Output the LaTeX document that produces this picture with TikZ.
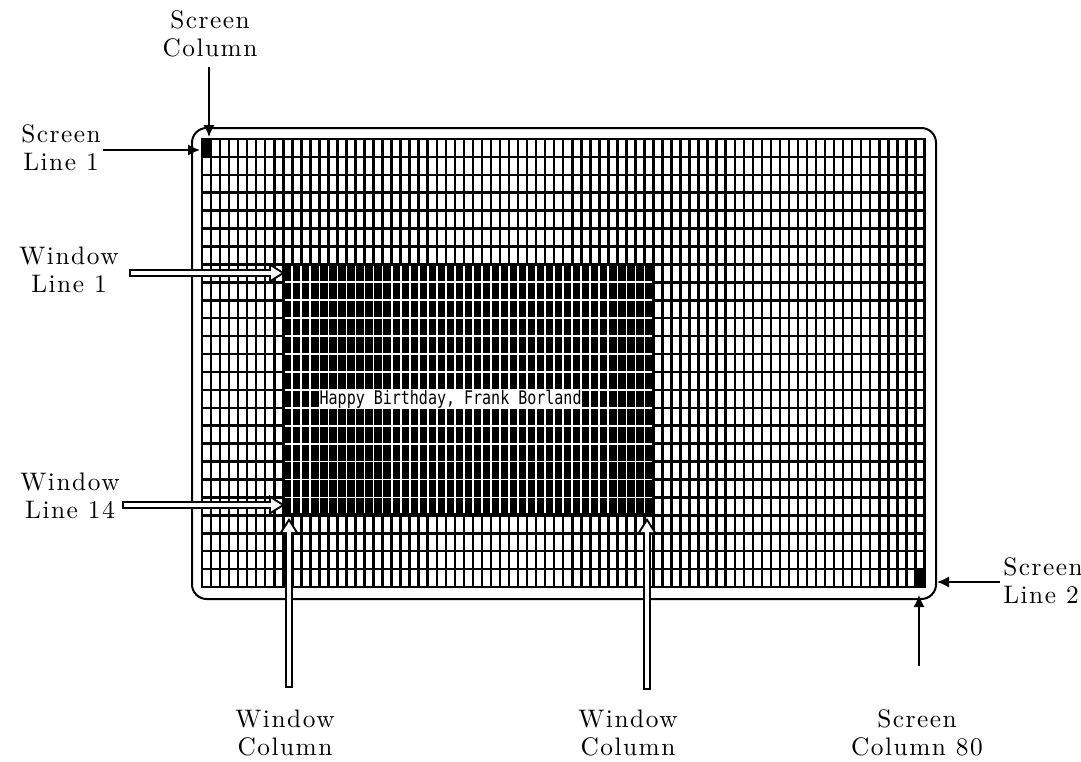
\documentclass[tikz,border=0pt]{standalone}
\usepackage{fontspec}
\setmainfont{Latin Modern Roman}
\newfontfamily\lblfont{lmroman10-regular.otf}
\newfontfamily\scrfont{DejaVu Sans Mono}
\usetikzlibrary{arrows.meta}
\newcommand{\colw}{9.03}
\newcommand{\rowh}{17.92}

\begin{document}
\begin{tikzpicture}[x=0.75pt,y=-0.75pt,
  lbl/.style={align=center, inner sep=0pt, font=\lblfont\fontsize{19}{21}\selectfont\addfontfeature{LetterSpace=6}},
  ptr/.style={line width=1.4pt, -{Latex[length=9pt,width=8.5pt]}},
  hollowout/.style={line width=6pt, -{Triangle[length=12pt,width=15pt,line width=0pt]}},
  hollowin/.style={white, line width=3pt, shorten <=1.5pt, shorten >=2.8pt, -{Triangle[length=7.7pt,width=9.6pt,line width=0pt]}},
  gridline/.style={line width=1.9pt, line cap=rect},
  winline/.style={white, line width=1.3pt}]
\useasboundingbox (0,0) rectangle (1081,761);
\clip (0,0) rectangle (1081,761);
% screen frame and 80x25 grid
\draw[line width=1.5pt, rounded corners=11pt] (192,128) rectangle (936,599);
\foreach \i in {0,...,80} {\draw[gridline] ({202+\i*\colw},139) -- ({202+\i*\colw},{139+25*\rowh});}
\foreach \j in {0,...,25} {\draw[gridline] (202,{139+\j*\rowh}) -- ({202+80*\colw},{139+\j*\rowh});}
\fill (202,139) rectangle ({202+\colw},{139+\rowh});\fill ({202+79*\colw},{139+24*\rowh}) rectangle ({202+80*\colw},{139+25*\rowh});
% window, columns 10-50, lines 8-21
\fill ({202+9*\colw-1},{139+7*\rowh-1}) rectangle ({202+50*\colw+1},{139+21*\rowh+1});
\foreach \i in {10,...,49} {\draw[winline] ({202+\i*\colw},{139+7*\rowh+2}) -- ({202+\i*\colw},{139+21*\rowh-2});}
\foreach \j in {8,...,20} {\draw[winline] ({202+9*\colw+2},{139+\j*\rowh}) -- ({202+50*\colw-2},{139+\j*\rowh});}
\fill[white] ({202+13*\colw},{139+14*\rowh}) rectangle ({202+42*\colw},{139+15*\rowh});
\node[inner sep=0pt, anchor=west, font=\fontsize{11.25}{12}\selectfont\scrfont] (msg) at ({202+13*\colw},{139+14.5*\rowh}) {\scalebox{1}[1.25]{Happy Birthday, Frank Borland}};
% labels
\node[lbl] (scol) at (210,34) {Screen\\Column};
\node[lbl] (sline1) at (61,148) {Screen\\Line 1};
\node[lbl] (wline1) at (69,270) {Window\\Line 1};
\node[lbl] (wline14) at (70,496) {Window\\Line 14};
\node[lbl] (wcolA) at (285,733) {Window\\Column};
\node[lbl] (wcolB) at (628,733) {Window\\Column};
\node[lbl, align=left, anchor=west] (sline25) at (1003,581) {Screen\\Line 25};
\node[lbl] (scol80) at (917,733) {Screen\\Column 80};
% arrow targets
\coordinate (c1) at (209,137);\coordinate (r1) at (200,150);
\coordinate (w1) at (285,273);\coordinate (w14) at (285,505);
\coordinate (wc10) at (289,518);\coordinate (wc50) at (647,518);
\coordinate (r25) at (937,582);\coordinate (c80) at (919,595);
% black pointers
\draw[ptr, shorten <=7.5pt] (scol.south -| c1) -- (c1);
\draw[ptr, shorten <=1.5pt] (sline1.east |- r1) -- (r1);
\draw[ptr, shorten <=2pt] (sline25.west |- r25) -- (r25);
\draw[ptr, shorten <=33pt] (scol80.north -| c80) -- (c80);
% hollow pointers
\draw[hollowout, shorten <=8pt] (wline1.east |- w1) -- (w1);\draw[hollowin, shorten <=9.5pt] (wline1.east |- w1) -- (w1);
\draw[hollowout, shorten <=2pt] (wline14.east |- w14) -- (w14);\draw[hollowin, shorten <=3.5pt] (wline14.east |- w14) -- (w14);
\draw[hollowout, shorten <=16pt] (wcolA.north -| wc10) -- (wc10);\draw[hollowin, shorten <=17.5pt] (wcolA.north -| wc10) -- (wc10);
\draw[hollowout, shorten <=14.5pt] (wcolB.north -| wc50) -- (wc50);\draw[hollowin, shorten <=16pt] (wcolB.north -| wc50) -- (wc50);
\end{tikzpicture}
\end{document}
